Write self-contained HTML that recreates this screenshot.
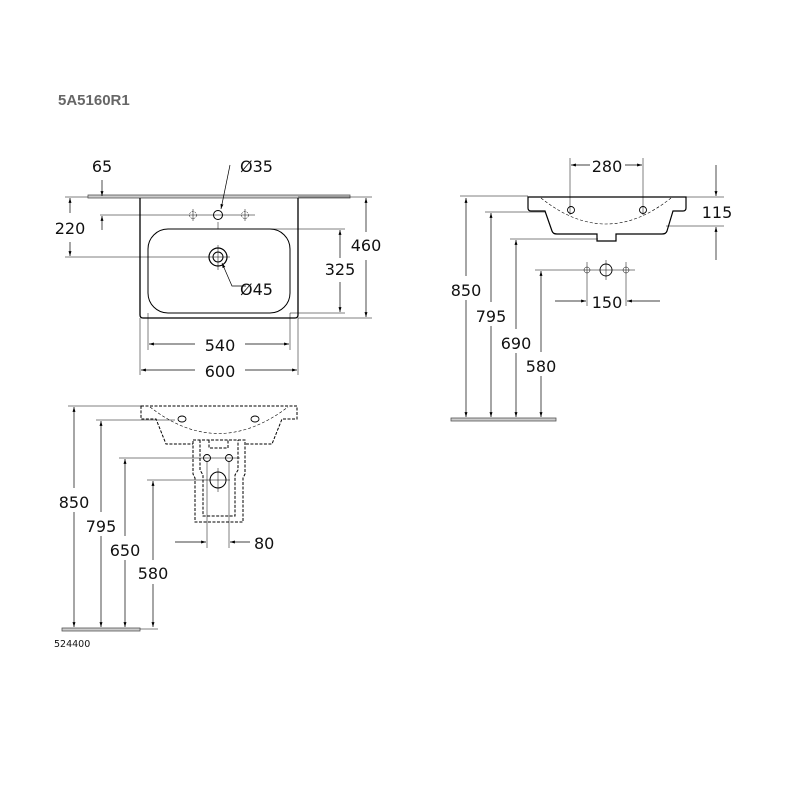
<!DOCTYPE html>
<html><head><style>
body{margin:0;background:#fff}
svg{display:block}
text{font-family:"DejaVu Sans","Liberation Sans",sans-serif;fill:#111}
</style></head><body>
<svg width="800" height="800" viewBox="0 0 800 800" xmlns="http://www.w3.org/2000/svg">
<defs>
<marker id="a" viewBox="0 0 10 10" refX="10" refY="5" markerWidth="7" markerHeight="7" orient="auto-start-reverse"><path d="M0,2 L10,5 L0,8z" fill="#000"/></marker>
</defs>
<text x="58" y="105" style="font-family:'Liberation Sans',sans-serif;font-weight:bold;font-size:15px;fill:#666">5A5160R1</text>

<!-- TOP LEFT VIEW -->
<g stroke="#000" fill="none">
<rect x="88" y="195" width="262" height="3" fill="#ccc" stroke="#555" stroke-width="0.8"/>
<path d="M140,198 V315 Q140,318 143,318 H295 Q298,318 298,315 V198" stroke-width="1.3"/>
<rect x="148" y="229" width="142" height="84" rx="20" stroke-width="1"/>
<circle cx="218" cy="215" r="4.5" stroke-width="1"/>
<circle cx="218" cy="257" r="9" stroke-width="1.2"/>
<circle cx="218" cy="257" r="5" stroke-width="1"/>
</g>
<g stroke="#000" stroke-width="0.5" fill="none">
<circle cx="193" cy="215" r="3.5" stroke-dasharray="2 1"/><circle cx="245" cy="215" r="3.5" stroke-dasharray="2 1"/>
<path d="M100,215 H255 M65,257 H230 M218,245 V270 M193,209 V221 M245,209 V221 M218,222 V229"/>
<path d="M230,229 H345 M290,313 H345 M298,318 H372 M298,197 H372 M65,197 H88"/>
<path d="M148,313 V350 M290,313 V350 M140,318 V375 M298,318 V375"/>
</g>
<g stroke="#000" stroke-width="0.7" fill="none">
<line x1="102" y1="180" x2="102" y2="196" marker-end="url(#a)"/>
<line x1="102" y1="230" x2="102" y2="216" marker-end="url(#a)"/>
<line x1="70" y1="213" x2="70" y2="198" marker-end="url(#a)"/>
<line x1="70" y1="242" x2="70" y2="256" marker-end="url(#a)"/>
<line x1="366" y1="232" x2="366" y2="198" marker-end="url(#a)"/>
<line x1="366" y1="260" x2="366" y2="317" marker-end="url(#a)"/>
<line x1="340" y1="258" x2="340" y2="230" marker-end="url(#a)"/>
<line x1="340" y1="282" x2="340" y2="312" marker-end="url(#a)"/>
<line x1="195" y1="344" x2="149" y2="344" marker-end="url(#a)"/>
<line x1="245" y1="344" x2="289" y2="344" marker-end="url(#a)"/>
<line x1="195" y1="370" x2="141" y2="370" marker-end="url(#a)"/>
<line x1="245" y1="370" x2="297" y2="370" marker-end="url(#a)"/>
<polyline points="230,165 221,209" marker-end="url(#a)"/>
<polyline points="246,286 232,286 222,263" marker-end="url(#a)"/>
</g>
<g font-size="16">
<text x="102" y="172" text-anchor="middle">65</text>
<text x="70" y="234" text-anchor="middle">220</text>
<text x="366" y="251" text-anchor="middle">460</text>
<text x="340" y="275" text-anchor="middle">325</text>
<text x="220" y="351" text-anchor="middle">540</text>
<text x="220" y="377" text-anchor="middle">600</text>
<text x="240" y="172">Ø35</text>
<text x="240" y="295">Ø45</text>
</g>

<!-- RIGHT VIEW -->
<g stroke="#000" fill="none" stroke-width="1.2">
<path d="M528,197 H686 V208 Q686,211 683,211 H673 L667,231 Q666,234 662,234 H616 V241 H597 V234 H557 Q553,234 552,231 L545,211 H531 Q528,211 528,208 Z"/>
<circle cx="571" cy="210" r="3.5" stroke-width="0.9"/><circle cx="643" cy="210" r="3.5" stroke-width="0.9"/>
</g>
<path d="M541,198 Q606,250 671,198" stroke="#000" stroke-width="0.6" fill="none" stroke-dasharray="3 2"/>
<rect x="451" y="418" width="105" height="3" fill="#ccc" stroke="#555" stroke-width="0.8"/>
<g stroke="#000" stroke-width="0.5" fill="none">
<path d="M460,196 H528 M485,212 H545 M510,239 H598 M535,270 H635 M686,197 H724 M666,226 H724"/>
<path d="M570,158 V215 M643,158 V215 M587,262 V306 M626,262 V306 M606,260 V280"/>
<circle cx="587" cy="270" r="3"/><circle cx="626" cy="270" r="3"/><circle cx="606" cy="270" r="6" stroke-width="0.9"/>
</g>
<g stroke="#000" stroke-width="0.7" fill="none">
<line x1="590" y1="165" x2="571" y2="165" marker-end="url(#a)"/>
<line x1="625" y1="165" x2="642" y2="165" marker-end="url(#a)"/>
<line x1="716" y1="165" x2="716" y2="196" marker-end="url(#a)"/>
<line x1="716" y1="260" x2="716" y2="227" marker-end="url(#a)"/>
<line x1="555" y1="301" x2="586" y2="301" marker-end="url(#a)"/>
<line x1="660" y1="301" x2="627" y2="301" marker-end="url(#a)"/>
<line x1="466" y1="276" x2="466" y2="198" marker-end="url(#a)"/><line x1="466" y1="300" x2="466" y2="417" marker-end="url(#a)"/>
<line x1="491" y1="302" x2="491" y2="213" marker-end="url(#a)"/><line x1="491" y1="326" x2="491" y2="417" marker-end="url(#a)"/>
<line x1="516" y1="329" x2="516" y2="240" marker-end="url(#a)"/><line x1="516" y1="353" x2="516" y2="417" marker-end="url(#a)"/>
<line x1="541" y1="352" x2="541" y2="271" marker-end="url(#a)"/><line x1="541" y1="376" x2="541" y2="417" marker-end="url(#a)"/>
</g>
<g font-size="16">
<text x="607" y="172" text-anchor="middle">280</text>
<text x="717" y="218" text-anchor="middle">115</text>
<text x="607" y="308" text-anchor="middle">150</text>
<text x="466" y="296" text-anchor="middle">850</text>
<text x="491" y="322" text-anchor="middle">795</text>
<text x="516" y="349" text-anchor="middle">690</text>
<text x="541" y="372" text-anchor="middle">580</text>
</g>

<!-- BOTTOM LEFT VIEW -->
<g stroke="#000" fill="none" stroke-width="1" stroke-dasharray="3 1.5">
<path d="M141,406 H297 V419 H282 L272,444 H166 L156,419 H141 Z"/>
<path d="M193,440 H245 V474 L243,478 V522 H195 V478 L193,474 Z" fill="#fff"/>
<path d="M200,440 V470 L203,475 V516 H235 V475 L238,470 V440"/>
<path d="M209,440 V448 H228 V440"/>
</g>
<path d="M150,407 Q218,460 288,407" stroke="#000" stroke-width="0.6" fill="none" stroke-dasharray="3 2"/>
<g stroke="#000" fill="none">
<ellipse cx="182" cy="419" rx="4" ry="3" stroke-width="0.9"/><ellipse cx="255" cy="419" rx="4" ry="3" stroke-width="0.9"/>
<circle cx="207" cy="458" r="3.5" stroke-width="0.9"/><circle cx="229" cy="458" r="3.5" stroke-width="0.9"/>
<circle cx="218" cy="480" r="8" stroke-width="1"/>
</g>
<rect x="62" y="628" width="78" height="3" fill="#ccc" stroke="#555" stroke-width="0.8"/>
<g stroke="#000" stroke-width="0.5" fill="none">
<path d="M68,406 H141 M96,420 H175 M119,458 H240 M147,480 H230 M218,468 V492 M207,462 V548 M229,462 V548 M140,629 H158"/>
</g>
<g stroke="#000" stroke-width="0.7" fill="none">
<line x1="74" y1="488" x2="74" y2="407" marker-end="url(#a)"/><line x1="74" y1="512" x2="74" y2="627" marker-end="url(#a)"/>
<line x1="101" y1="512" x2="101" y2="421" marker-end="url(#a)"/><line x1="101" y1="536" x2="101" y2="627" marker-end="url(#a)"/>
<line x1="125" y1="536" x2="125" y2="459" marker-end="url(#a)"/><line x1="125" y1="560" x2="125" y2="627" marker-end="url(#a)"/>
<line x1="153" y1="560" x2="153" y2="481" marker-end="url(#a)"/><line x1="153" y1="584" x2="153" y2="627" marker-end="url(#a)"/>
<line x1="175" y1="542" x2="206" y2="542" marker-end="url(#a)"/>
<line x1="250" y1="542" x2="230" y2="542" marker-end="url(#a)"/>
</g>
<g font-size="16">
<text x="74" y="508" text-anchor="middle">850</text>
<text x="101" y="532" text-anchor="middle">795</text>
<text x="125" y="556" text-anchor="middle">650</text>
<text x="153" y="579" text-anchor="middle">580</text>
<text x="254" y="549">80</text>
</g>
<text x="54" y="647" font-size="9.5">524400</text>
</svg>
</body></html>
